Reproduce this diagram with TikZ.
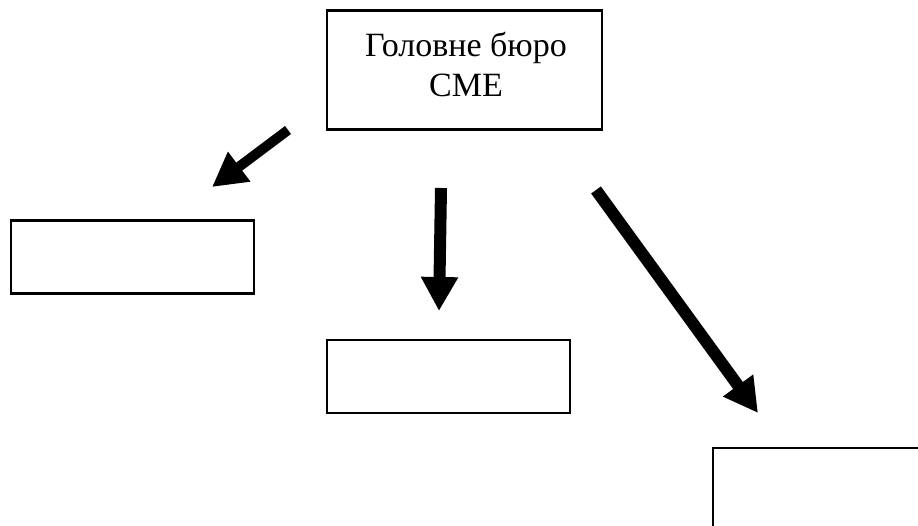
\documentclass[tikz,border=0pt]{standalone}
\usepackage{fontspec}
\setmainfont{Liberation Serif}
\usetikzlibrary{arrows.meta}
\tikzset{
    box/.style={draw, rectangle, line width=2.2pt, minimum width=243pt, minimum height=73pt, inner sep=0pt},
    bigarrow/.style={line width=12pt, -{Triangle[length=34pt, width=35pt]}}
}
\begin{document}
\begin{tikzpicture}[x=1pt, y=-1pt]
    \useasboundingbox (0,0) rectangle (918,525);
    \clip (0,0) rectangle (918,525);

    % Head office
    \node[box, minimum width=275pt, minimum height=119pt] (bureau) at (464.5,70) {};
    \node[align=center, font=\fontsize{34}{40}\selectfont] (bureautext) at (466,64) {Головне бюро\\СМЕ};

    % Empty boxes below
    \node[box] (left) at (132.5,257) {};
    \node[box] (middle) at (448.5,376.5) {};
    \node[box, minimum height=90pt] (right) at (834.5,493) {};

    % Arrow ends
    \coordinate (a1s) at (288,130);
    \coordinate (a1e) at (212,187);
    \coordinate (a2s) at (441,188);
    \coordinate (a2e) at (439,311);
    \coordinate (a3s) at (596,190);
    \coordinate (a3e) at (758,413);

    % Arrows
    \draw[bigarrow, line width=10pt] (a1s) -- (a1e);
    \draw[bigarrow] (a2s) -- (a2e);
    \draw[bigarrow] (a3s) -- (a3e);
\end{tikzpicture}
\end{document}
